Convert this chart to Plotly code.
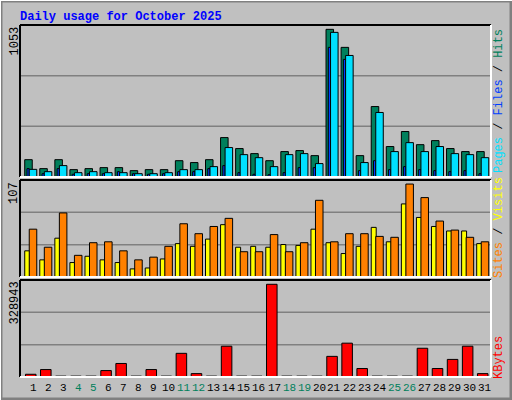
import plotly.graph_objects as go

days = list(range(1, 32))
hits = [120,58,120,51,58,65,65,44,51,51,113,100,120,273,197,162,113,176,183,148,1023,898,148,488,211,315,224,252,197,176,176]
files = [53,37,79,30,37,30,30,23,23,30,51,51,72,204,155,134,72,155,162,93,1002,842,100,447,176,238,176,211,162,155,134]
pages = [58,23,58,19,23,23,37,23,19,23,37,37,58,79,30,19,16,30,65,65,898,815,44,113,51,72,51,44,37,44,23]
sites = [29,19,43,16,23,19,16,9,10,20,37,34,42,58,33,34,33,36,35,53,38,26,34,55,39,81,66,56,51,51,37]
visits = [53,33,71,24,38,39,29,19,22,34,59,48,56,65,28,28,47,28,38,85,39,48,48,45,44,103,88,62,52,44,39]
kbytes = [9300,25500,3000,3000,3000,22000,46300,3000,25500,3000,81000,11600,3000,105400,3000,3000,317300,3000,3000,3000,70600,115800,29000,3000,3000,3000,98400,29000,60200,105400,11600]
weekend = [4,5,11,12,18,19,25,26]
scale_labels = ["1053", "107", "328943"]

FONT = "Liberation Mono, DejaVu Sans Mono, monospace"
fig = go.Figure()

def bar(y, color, off, w, ax):
    fig.add_trace(go.Bar(x=days, y=y, offset=off, width=w, marker=dict(color=color, line=dict(color="black", width=1)),
                         xaxis=ax[0], yaxis=ax[1], showlegend=False))

bar(hits, "#00805C", -0.55, 0.5, ("x", "y"))
bar(pages, "#0040FF", -0.4, 0.15, ("x", "y"))
bar(files, "#00E0FF", -0.25, 0.5, ("x", "y"))
bar(sites, "#FFFF00", -0.55, 0.33, ("x2", "y2"))
bar(visits, "#FF8000", -0.25, 0.5, ("x2", "y2"))
bar(kbytes, "#FF0000", -0.5, 0.7, ("x3", "y3"))

xd = [20/512, 491/512]
xr = [0.137, 31.4]
doms = [[1-177/400, 1-25/400], [1-277/400, 1-180/400], [1-377/400, 1-280/400]]
ranges = [[0, 1053], [0, 107.5], [0, 332000]]
lay = dict(barmode="overlay", width=512, height=400, margin=dict(l=0, r=0, t=0, b=0),
           paper_bgcolor="#C0C0C0", plot_bgcolor="#C0C0C0", showlegend=False)
shapes = []
annotations = []
for i in range(3):
    s = "" if i == 0 else str(i+1)
    lay["xaxis"+s] = dict(domain=xd, range=xr, showticklabels=False, showgrid=False, zeroline=False,
                          anchor="y"+s, fixedrange=True)
    lay["yaxis"+s] = dict(domain=doms[i], range=ranges[i], showticklabels=False, showgrid=False,
                          zeroline=False, anchor="x"+s)
    for f in (1/3, 2/3):
        shapes.append(dict(type="line", xref="x"+s+" domain", yref="y"+s+" domain", x0=0, x1=1, y0=f, y1=f,
                           line=dict(color="#808080", width=1.5), layer="below"))
    shapes.append(dict(type="line", xref="x"+s+" domain", yref="y"+s+" domain", x0=0, x1=1, y0=1, y1=1, line=dict(color="black", width=2)))
    shapes.append(dict(type="line", xref="x"+s+" domain", yref="y"+s+" domain", x0=0, x1=0, y0=0, y1=1, line=dict(color="black", width=2)))
    shapes.append(dict(type="line", xref="x"+s+" domain", yref="y"+s+" domain", x0=0, x1=1, y0=0, y1=0, line=dict(color="white", width=2)))
    shapes.append(dict(type="line", xref="x"+s+" domain", yref="y"+s+" domain", x0=1, x1=1, y0=0, y1=1, line=dict(color="white", width=2)))
    annotations.append(dict(text=scale_labels[i], xref="paper", yref="paper", x=14/512, y=doms[i][1],
                            xanchor="center", yanchor="top", textangle=-90, showarrow=False,
                            font=dict(family=FONT, size=12, color="black")))

shapes.append(dict(type="rect", xref="paper", yref="paper", x0=0, x1=1, y0=0, y1=1, line=dict(color="#808080", width=5)))
shapes.append(dict(type="line", xref="paper", yref="paper", x0=0, x1=1, y0=1, y1=1, line=dict(color="white", width=2)))
shapes.append(dict(type="line", xref="paper", yref="paper", x0=0, x1=0, y0=0, y1=1, line=dict(color="white", width=2)))

for d in days:
    annotations.append(dict(text=str(d), xref="x3", yref="paper", x=d, y=1-380/400, yanchor="top",
                            showarrow=False, font=dict(family=FONT, size=11,
                            color="#00805C" if d in weekend else "black")))

def side(text, y):
    annotations.append(dict(text=text, xref="paper", yref="paper", x=499/512, y=y, xanchor="center",
                            yanchor="middle", textangle=-90, showarrow=False, font=dict(family=FONT, size=12)))

side("<span style='color:#00E0FF'>Pages</span><span style='color:black'> / </span>"
     "<span style='color:#0040FF'>Files</span><span style='color:black'> / </span>"
     "<span style='color:#00805C'>Hits</span>", 1-101/400)
side("<span style='color:#FF8000'>Sites</span><span style='color:black'> / </span>"
     "<span style='color:#FFFF00'>Visits</span>", 1-228/400)
side("<span style='color:#FF0000'>KBytes</span>", 1-358/400)

annotations.append(dict(text="<b>Daily usage for October 2025</b>", xref="paper", yref="paper", x=18/512, y=1-8/400,
                        xanchor="left", yanchor="top", showarrow=False,
                        font=dict(family=FONT, size=12, color="#0000FF")))
lay["shapes"] = shapes
lay["annotations"] = annotations
fig.update_layout(**lay)
fig.write_html("out.html", config={"displayModeBar": False},
               post_script="document.body.style.margin='0';document.body.style.overflow='hidden';")
